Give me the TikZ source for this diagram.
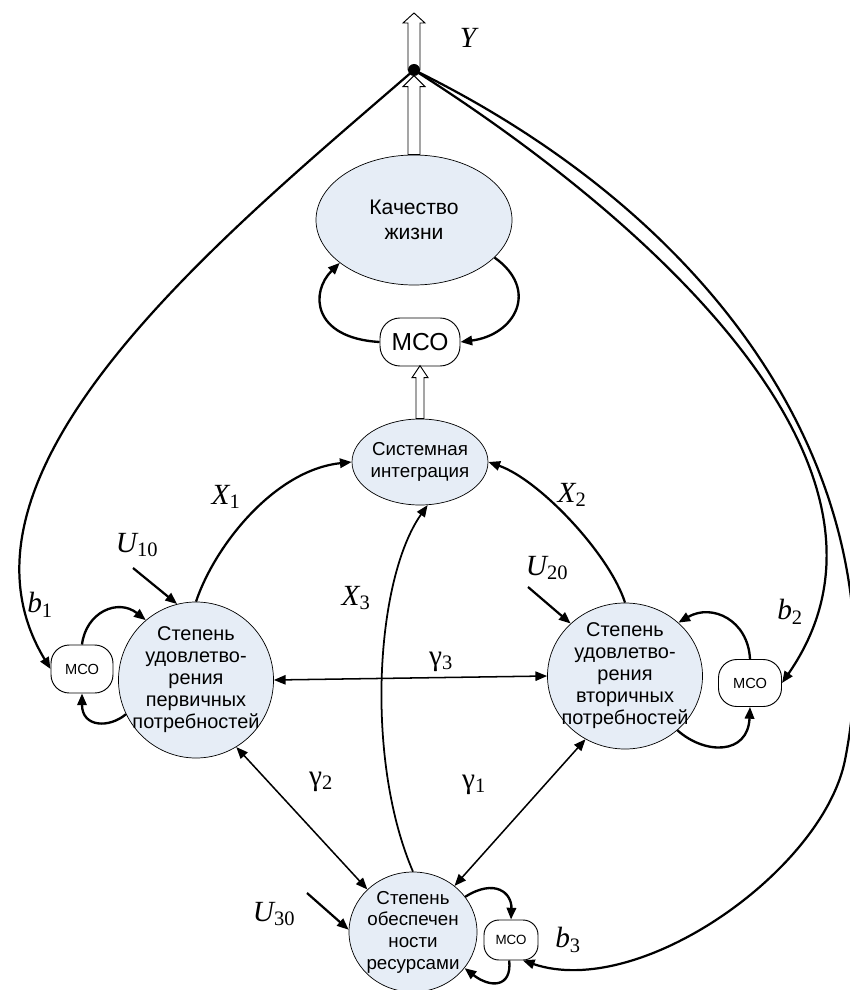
\documentclass[tikz,border=0pt]{standalone}
\usepackage{fontspec}
\setmainfont{Liberation Sans}
\newfontfamily\lblfont{Liberation Serif}
\usetikzlibrary{shapes.geometric, arrows.meta}
\definecolor{blobfill}{RGB}{230,237,246}

\begin{document}
\begin{tikzpicture}[x=0.03cm, y=-0.03cm,
    blob/.style={ellipse, draw, line width=0.6pt, fill=blobfill, inner sep=-15pt, align=center},
    mco/.style={rectangle, draw, line width=0.8pt, fill=white, inner sep=0pt, align=center},
    lbl/.style={font=\lblfont\fontsize{25pt}{28pt}\selectfont, inner sep=0pt},
    link/.style={line width=1.9pt, -{Triangle[length=10pt,width=8pt]}},
    selfline/.style={line width=2pt, -{Triangle[length=10pt,width=8pt]}},
    both/.style={line width=1.3pt, {Triangle[length=10pt,width=8pt]}-{Triangle[length=10pt,width=8pt]}},
    hollow/.style={draw, line width=0.8pt, fill=white, line join=miter}]
        \useasboundingbox (0,0) rectangle (850,990);

        % nodes
        \node[blob, minimum width=5.88cm, minimum height=3.9cm, font=\fontsize{18pt}{21.3pt}\selectfont] (kach) at (414,220) {Качество\\жизни};
        \node[mco, minimum width=2.4cm, minimum height=1.44cm, rounded corners=0.6cm, font=\fontsize{21pt}{24pt}\selectfont] (mcoT) at (420,342) {МСО};
        \node[blob, minimum width=4.08cm, minimum height=2.58cm, font=\fontsize{16pt}{18.8pt}\selectfont] (sys) at (420,462) {Системная\\интеграция};
        \node[blob, minimum width=4.65cm, minimum height=4.68cm, font=\fontsize{17pt}{18.8pt}\selectfont] (need1) at (196,680) {Степень\\удовлетво-\\рения\\первичных\\потребностей};
        \node[blob, minimum width=4.65cm, minimum height=4.38cm, font=\fontsize{17pt}{18.8pt}\selectfont] (need2) at (625,676) {Степень\\удовлетво-\\рения\\вторичных\\потребностей};
        \node[blob, minimum width=3.84cm, minimum height=3.6cm, font=\fontsize{16pt}{18.5pt}\selectfont] (res) at (413,932) {Степень\\обеспечен\\ности\\ресурсами};
        \node[mco, minimum width=1.86cm, minimum height=1.44cm, rounded corners=0.55cm, font=\fontsize{12.5pt}{14pt}\selectfont] (mcoL) at (82,669) {МСО};
        \node[mco, minimum width=1.89cm, minimum height=1.41cm, rounded corners=0.55cm, font=\fontsize{12.5pt}{14pt}\selectfont] (mcoR) at (750,683) {МСО};
        \node[mco, minimum width=1.62cm, minimum height=1.2cm, rounded corners=0.45cm, font=\fontsize{11.4pt}{13pt}\selectfont] (mcoB) at (511,940) {МСО};
        \coordinate (hub) at (414,70);
        \coordinate (u10) at (133,568);
        \coordinate (u20) at (528,587);
        \coordinate (u30) at (307,893);

        % hollow arrows
        \draw[hollow] (hub) ++(-6,0) -- ++(0,-47) -- ++(-5,0) -- ++(11,-10) -- ++(11,10) -- ++(-5,0) -- ++(0,47) -- cycle;
        \draw[hollow] (kach.north) ++(-6,0) -- ++(0,-68) -- ++(-5,0) -- ++(11,-11) -- ++(11,11) -- ++(-5,0) -- ++(0,68) -- cycle;
        \draw[hollow] (sys.north) ++(-4,0) -- ++(0,-41) -- ++(-4,0) -- ++(8,-12) -- ++(8,12) -- ++(-4,0) -- ++(0,41) -- cycle;
        \fill (hub) circle (6);

        % feedback loops
        \draw[selfline] (kach.-25) .. controls (540,290) and (515,335) .. (mcoT.east);
        \draw[selfline] (mcoT.west) .. controls (312,338) and (310,292) .. (kach.-150);
        \draw[selfline] (mcoL.north) .. controls (86,612) and (118,598) .. (need1.130);
        \draw[selfline] (need1.206) .. controls (110,728) and (82,728) .. (mcoL.south);
        \draw[selfline] (mcoR.north) .. controls (748,620) and (712,603) .. (need2.45);
        \draw[selfline] (need2.-46) .. controls (705,755) and (748,755) .. (mcoR.south);
        \draw[selfline] (res.34) .. controls (495,878) and (512,893) .. (mcoB.north);
        \draw[selfline] (mcoB.-95) .. controls (512,988) and (490,988) .. (res.-35);

        % links
        \draw[link] (need1.north) .. controls (215,545) and (275,470) .. (sys.west);
        \draw[link] (need2.north) .. controls (610,555) and (540,480) .. (sys.east);
        \draw[link, line width=1.5pt] (res.north) .. controls (365,760) and (375,580) .. (sys.-80);
        \draw[both] (need1.east) -- (need2.west);
        \draw[both] (need1.-59) -- (res.137);
        \draw[both] (need2.-122) -- (res.48);
        \draw[link] (u10) -- (need1.104);
        \draw[link] (u20) -- (need2.136);
        \draw[link] (u30) -- (res.178);
        \draw[link] (hub) .. controls (230,230) and (-70,470) .. (mcoL.west);
        \draw[link] (hub) .. controls (650,220) and (930,470) .. (mcoR.east);
        \draw[link] (hub) .. controls (720,220) and (900,480) .. (845,760) .. controls (823,870) and (640,1000) .. (mcoB.-60);

        % labels
        \node[lbl] (lY) at (468,38) {\itshape Y};
        \node[lbl] (lX1) at (226,497) {{\itshape X}\textsubscript{1}};
        \node[lbl] (lX2) at (572,495) {{\itshape X}\textsubscript{2}};
        \node[lbl] (lX3) at (356,598) {{\itshape X}\textsubscript{3}};
        \node[lbl] (lU10) at (137,545) {{\itshape U}\textsubscript{10}};
        \node[lbl] (lU20) at (547,568) {{\itshape U}\textsubscript{20}};
        \node[lbl] (lU30) at (274,914) {{\itshape U}\textsubscript{30}};
        \node[lbl] (lg3) at (441,662) {γ\textsubscript{3}};
        \node[lbl] (lg2) at (321,782) {γ\textsubscript{2}};
        \node[lbl] (lg1) at (474,785) {γ\textsubscript{1}};
        \node[lbl] (lb1) at (40,605) {{\itshape b}\textsubscript{1}};
        \node[lbl] (lb2) at (790,612) {{\itshape b}\textsubscript{2}};
        \node[lbl] (lb3) at (568,940) {{\itshape b}\textsubscript{3}};
\end{tikzpicture}
\end{document}
